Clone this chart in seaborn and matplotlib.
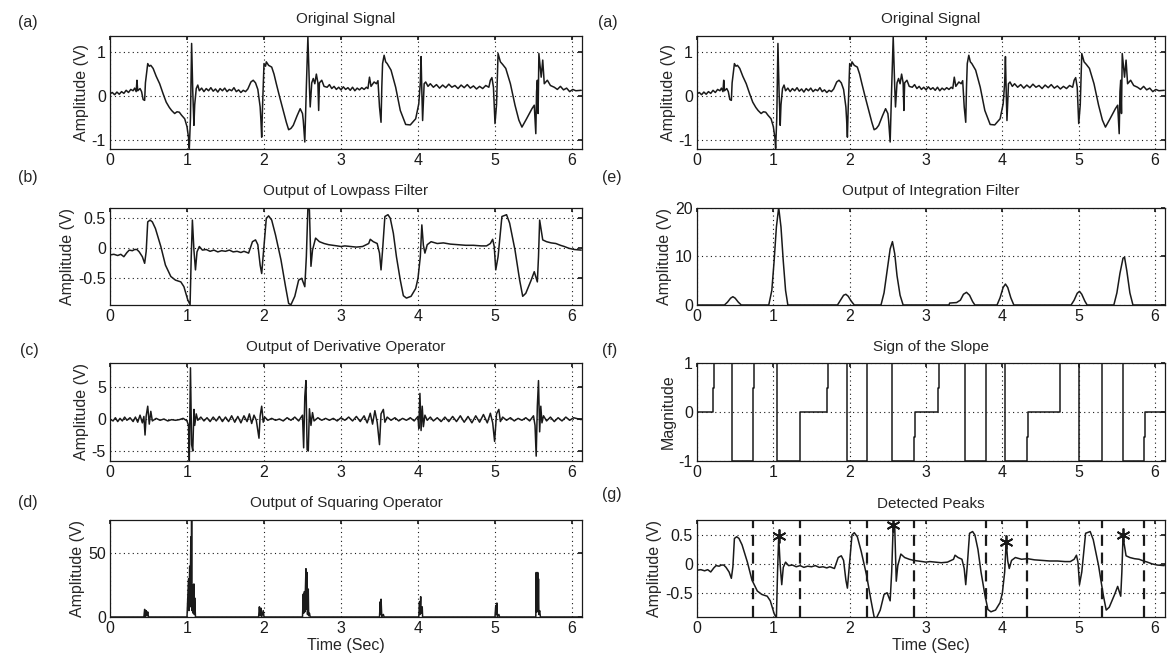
import matplotlib
matplotlib.use('Agg')
import matplotlib.pyplot as plt
import seaborn as sns

# ---- data (time in seconds) ----
sig_t = [0.00, 0.03, 0.06, 0.09, 0.12, 0.15, 0.18, 0.21, 0.24, 0.27, 0.30, 0.32, 0.34, 0.35, 0.36, 0.39,
         0.41, 0.43, 0.45, 0.46, 0.48, 0.49, 0.51, 0.53, 0.56, 0.60, 0.645, 0.69, 0.73, 0.77, 0.80, 0.84,
         0.87, 0.90, 0.93, 0.97, 1.00, 1.02, 1.03, 1.045, 1.06, 1.075, 1.09, 1.10, 1.12, 1.14, 1.16, 1.19,
         1.22, 1.25, 1.28, 1.31, 1.34, 1.37, 1.40, 1.43, 1.46, 1.49, 1.52, 1.55, 1.58, 1.61, 1.64, 1.67,
         1.70, 1.73, 1.76, 1.79, 1.83, 1.86, 1.89, 1.92, 1.95, 1.96, 1.97, 1.98, 2.00, 2.02, 2.03, 2.06,
         2.10, 2.13, 2.16, 2.20, 2.25, 2.29, 2.32, 2.35, 2.38, 2.43, 2.47, 2.50, 2.51, 2.53, 2.55, 2.57,
         2.59, 2.60, 2.62, 2.64, 2.66, 2.68, 2.70, 2.71, 2.72, 2.75, 2.78, 2.82, 2.85, 2.88, 2.91, 2.94,
         2.97, 3.00, 3.03, 3.06, 3.09, 3.12, 3.15, 3.18, 3.21, 3.24, 3.27, 3.30, 3.33, 3.35, 3.37, 3.39,
         3.43, 3.46, 3.48, 3.50, 3.52, 3.53, 3.54, 3.56, 3.58, 3.60, 3.65, 3.71, 3.77, 3.84, 3.90, 3.97,
         4.01, 4.03, 4.04, 4.05, 4.06, 4.08, 4.10, 4.13, 4.16, 4.20, 4.24, 4.28, 4.32, 4.36, 4.40, 4.44,
         4.48, 4.52, 4.56, 4.60, 4.64, 4.68, 4.72, 4.76, 4.80, 4.84, 4.88, 4.92, 4.94, 4.96, 4.98, 5.00,
         5.02, 5.04, 5.07, 5.10, 5.14, 5.20, 5.26, 5.31, 5.35, 5.41, 5.48, 5.51, 5.53, 5.54, 5.55, 5.56,
         5.57, 5.60, 5.62, 5.64, 5.68, 5.72, 5.77, 5.81, 5.85, 5.89, 5.93, 5.97, 6.01, 6.05, 6.12]
sig_v = [0.05, 0.08, 0.03, 0.09, 0.04, 0.10, 0.06, 0.13, 0.08, 0.15, 0.12, 0.18, 0.10, 0.36, 0.12, 0.17,
         0.10, -0.08, -0.10, 0.30, 0.60, 0.74, 0.68, 0.70, 0.63, 0.45, 0.28, 0.05, -0.14, -0.26, -0.33, -0.40,
         -0.36, -0.37, -0.44, -0.52, -0.70, -0.95, -1.20, -0.50, 1.20, 0.10, -0.67, -0.20, 0.17, 0.25, 0.12, 0.18,
         0.10, 0.17, 0.12, 0.19, 0.11, 0.16, 0.09, 0.17, 0.12, 0.18, 0.10, 0.15, 0.12, 0.19, 0.10, 0.14,
         0.08, 0.13, 0.10, 0.16, 0.32, 0.36, 0.30, 0.15, -0.25, -0.55, -0.94, -0.30, 0.74, 0.68, 0.78, 0.70,
         0.66, 0.50, 0.28, 0.00, -0.33, -0.60, -0.77, -0.74, -0.67, -0.45, -0.29, -0.40, -0.56, -1.05, 0.20, 1.35,
         0.20, -0.25, 0.30, 0.40, 0.28, 0.50, 0.30, -0.33, 0.30, 0.36, 0.22, 0.20, 0.26, 0.17, 0.22, 0.15,
         0.20, 0.14, 0.21, 0.15, 0.19, 0.13, 0.20, 0.12, 0.18, 0.14, 0.19, 0.15, 0.20, 0.17, 0.43, 0.22,
         0.32, 0.28, 0.35, -0.25, -0.60, 0.20, 0.74, 0.93, 0.78, 0.74, 0.59, 0.20, -0.33, -0.65, -0.66, -0.52,
         -0.18, 0.30, 0.90, 0.10, -0.56, 0.28, 0.32, 0.22, 0.28, 0.20, 0.26, 0.18, 0.25, 0.19, 0.27, 0.20,
         0.24, 0.17, 0.25, 0.19, 0.26, 0.18, 0.23, 0.16, 0.22, 0.17, 0.24, 0.20, 0.36, 0.42, 0.20, -0.63,
         -0.20, 0.97, 0.78, 0.72, 0.63, 0.28, -0.21, -0.55, -0.71, -0.52, -0.29, -0.21, -0.86, 0.10, 0.36, -0.40,
         0.97, 0.43, 0.82, 0.28, 0.36, 0.24, 0.20, 0.15, 0.22, 0.14, 0.18, 0.10, 0.15, 0.12, 0.13]

lp_t = [0.00, 0.05, 0.10, 0.14, 0.18, 0.22, 0.25, 0.29, 0.32, 0.35, 0.38, 0.42, 0.45, 0.47, 0.49, 0.52,
        0.55, 0.59, 0.66, 0.72, 0.79, 0.85, 0.92, 0.96, 1.01, 1.04, 1.055, 1.07, 1.09, 1.11, 1.13, 1.16,
        1.20, 1.25, 1.30, 1.35, 1.40, 1.45, 1.50, 1.55, 1.60, 1.65, 1.70, 1.74, 1.80, 1.85, 1.89, 1.92,
        1.95, 1.97, 2.00, 2.03, 2.06, 2.10, 2.15, 2.22, 2.28, 2.32, 2.35, 2.40, 2.45, 2.49, 2.53, 2.55,
        2.57, 2.59, 2.61, 2.63, 2.67, 2.72, 2.78, 2.84, 2.90, 2.95, 3.00, 3.05, 3.12, 3.20, 3.28, 3.36,
        3.38, 3.42, 3.47, 3.50, 3.52, 3.54, 3.57, 3.61, 3.64, 3.68, 3.72, 3.77, 3.81, 3.85, 3.91, 3.97,
        4.00, 4.03, 4.05, 4.07, 4.09, 4.12, 4.17, 4.25, 4.33, 4.42, 4.52, 4.62, 4.72, 4.82, 4.89, 4.94,
        4.97, 4.99, 5.01, 5.04, 5.09, 5.15, 5.19, 5.26, 5.32, 5.36, 5.40, 5.47, 5.51, 5.55, 5.565, 5.58,
        5.60, 5.62, 5.67, 5.73, 5.79, 5.85, 5.90, 5.96, 6.03, 6.12]
lp_v = [-0.11, -0.10, -0.12, -0.10, -0.14, -0.07, -0.03, -0.04, -0.02, -0.02, -0.06, -0.14, -0.25, -0.05, 0.44, 0.47,
        0.44, 0.33, 0.03, -0.28, -0.47, -0.53, -0.56, -0.64, -0.86, -0.94, -0.14, 0.47, -0.03, -0.36, -0.06, 0.03,
        -0.03, -0.02, -0.05, -0.03, -0.06, -0.04, -0.05, -0.03, -0.06, -0.05, -0.07, -0.05, -0.08, 0.11, 0.14, 0.06,
        -0.28, -0.42, 0.03, 0.50, 0.54, 0.47, 0.22, -0.19, -0.64, -0.92, -0.94, -0.80, -0.53, -0.50, -0.64, -0.14,
        0.67, 0.64, -0.30, -0.03, 0.17, 0.11, 0.08, 0.06, 0.05, 0.04, 0.03, 0.04, 0.03, 0.02, 0.03, 0.08,
        0.15, 0.11, 0.08, -0.08, -0.36, -0.03, 0.53, 0.56, 0.50, 0.25, -0.14, -0.53, -0.79, -0.83, -0.80, -0.67,
        -0.50, -0.14, 0.39, 0.05, -0.08, 0.06, 0.11, 0.08, 0.09, 0.07, 0.06, 0.05, 0.05, 0.04, 0.04, 0.08,
        0.15, 0.03, -0.36, -0.14, 0.53, 0.56, 0.42, -0.03, -0.53, -0.80, -0.75, -0.53, -0.39, -0.56, -0.14, 0.47,
        0.30, 0.14, 0.11, 0.09, 0.08, 0.05, 0.03, 0.00, -0.02, -0.03]

der_t = [0.00, 0.04, 0.07, 0.10, 0.13, 0.16, 0.19, 0.22, 0.26, 0.30, 0.33, 0.36, 0.39, 0.42, 0.44, 0.455,
         0.47, 0.49, 0.51, 0.53, 0.55, 0.60, 0.65, 0.70, 0.75, 0.80, 0.85, 0.90, 0.95, 1.00, 1.02, 1.03,
         1.045, 1.06, 1.075, 1.09, 1.10, 1.12, 1.14, 1.18, 1.22, 1.26, 1.30, 1.34, 1.38, 1.42, 1.46, 1.50,
         1.54, 1.58, 1.62, 1.66, 1.70, 1.74, 1.78, 1.81, 1.84, 1.87, 1.90, 1.935, 1.95, 1.97, 1.99, 2.01,
         2.05, 2.10, 2.15, 2.20, 2.25, 2.30, 2.35, 2.40, 2.45, 2.50, 2.515, 2.53, 2.545, 2.56, 2.575, 2.59,
         2.61, 2.63, 2.65, 2.70, 2.75, 2.80, 2.85, 2.90, 2.95, 3.00, 3.05, 3.10, 3.15, 3.20, 3.25, 3.30,
         3.34, 3.38, 3.41, 3.44, 3.47, 3.50, 3.52, 3.55, 3.57, 3.60, 3.65, 3.70, 3.75, 3.80, 3.85, 3.90,
         3.95, 4.00, 4.01, 4.025, 4.04, 4.055, 4.07, 4.09, 4.12, 4.16, 4.20, 4.25, 4.30, 4.35, 4.40, 4.45,
         4.50, 4.55, 4.60, 4.65, 4.70, 4.75, 4.80, 4.85, 4.90, 4.94, 4.97, 4.995, 5.02, 5.05, 5.07, 5.10,
         5.15, 5.20, 5.25, 5.30, 5.35, 5.40, 5.45, 5.50, 5.52, 5.535, 5.55, 5.565, 5.58, 5.595, 5.61, 5.63,
         5.67, 5.72, 5.77, 5.82, 5.87, 5.92, 5.97, 6.02, 6.12]
der_v = [0.0, -0.3, 0.2, -0.4, 0.1, -0.3, 0.3, -0.2, 0.2, -0.4, 0.3, -0.5, 0.6, -0.6, 0.4, -2.5,
         0.5, 2.0, -0.8, 1.2, -0.3, 0.1, -0.2, 0.0, -0.3, -0.1, -0.2, -0.1, 0.1, -0.3, -1.0, -6.5,
         8.0, -4.0, -5.0, 1.5, -1.0, 0.8, -0.2, 0.3, -0.3, 0.2, -0.4, 0.3, -0.3, 0.4, -0.4, 0.3,
         -0.4, 0.5, -0.5, 0.4, -0.6, 0.5, -0.4, 0.8, -0.7, 0.6, -0.2, -3.0, 0.5, 2.0, -0.5, 0.3,
         -0.2, 0.1, -0.2, 0.0, -0.3, 0.2, -0.2, 0.3, -0.3, 0.6, -4.5, 3.5, 6.0, -4.8, -5.0, 1.6,
         -1.0, 1.0, -0.3, 0.2, -0.2, 0.1, -0.2, 0.1, -0.3, 0.2, -0.2, 0.3, -0.3, 0.4, -0.4, 0.5,
         -0.6, 0.9, -0.8, 1.3, -0.5, -4.0, 0.8, 1.5, -0.5, 0.3, -0.2, 0.2, -0.3, 0.1, -0.2, 0.2,
         -0.3, 0.4, -1.5, 4.0, -1.8, 2.0, -1.2, 0.6, -0.2, 0.3, -0.3, 0.2, -0.4, 0.3, -0.4, 0.4,
         -0.4, 0.5, -0.5, 0.4, -0.6, 0.5, -0.5, 0.7, -0.6, 0.9, -0.6, -3.5, 0.8, 1.5, -0.4, 0.3,
         -0.2, 0.2, -0.3, 0.1, -0.2, 0.2, -0.3, 0.5, -1.0, -5.8, 2.0, 6.0, -2.0, 2.0, -0.6, 0.5,
         -0.3, 0.3, -0.4, 0.2, -0.3, 0.3, -0.2, 0.2, -0.1]

sq_t = [0.00, 0.44, 0.45, 0.46, 0.47, 0.48, 0.49, 0.50, 1.00, 1.02, 1.025, 1.035, 1.04, 1.05, 1.055, 1.06,
        1.065, 1.075, 1.08, 1.09, 1.095, 1.10, 1.11, 1.93, 1.94, 1.95, 1.96, 1.97, 1.99, 2.00, 2.50, 2.51,
        2.515, 2.525, 2.53, 2.545, 2.55, 2.56, 2.565, 2.575, 2.58, 2.59, 2.60, 3.50, 3.51, 3.515, 3.52, 3.53,
        3.55, 3.56, 4.01, 4.02, 4.025, 4.035, 4.04, 4.055, 4.06, 5.00, 5.01, 5.015, 5.025, 5.03, 5.05, 5.06,
        5.53, 5.535, 5.54, 5.545, 5.55, 5.555, 5.56, 5.565, 5.57, 5.58, 5.59, 6.12]
sq_v = [0, 0, 6, 0.5, 5, 1, 4, 0, 0, 30, 5, 40, 8, 63, 10, 76,
        5, 25, 3, 26, 2, 15, 0, 0, 8, 1, 7, 0, 5, 0, 0, 18,
        3, 20, 4, 38, 6, 35, 2, 22, 1, 3, 0, 0, 12, 2, 14, 0,
        2, 0, 0, 12, 2, 16, 3, 8, 0, 0, 9, 2, 11, 0, 2, 0,
        0, 35, 4, 34, 5, 35, 4, 30, 2, 5, 0, 0]

int_t = [0.00, 0.36, 0.40, 0.44, 0.47, 0.50, 0.54, 0.58, 0.94, 0.98, 1.01, 1.04, 1.07, 1.10, 1.13, 1.16,
         1.19, 1.84, 1.88, 1.92, 1.95, 1.98, 2.02, 2.06, 2.41, 2.45, 2.49, 2.53, 2.56, 2.59, 2.62, 2.66,
         2.70, 3.30, 3.31, 3.40, 3.45, 3.49, 3.53, 3.57, 3.61, 3.64, 3.93, 3.97, 4.01, 4.04, 4.07, 4.11,
         4.15, 4.90, 4.94, 4.98, 5.01, 5.04, 5.08, 5.11, 5.46, 5.50, 5.54, 5.58, 5.60, 5.63, 5.67, 5.71, 6.12]
int_v = [0, 0, 0.6, 1.4, 1.7, 1.4, 0.6, 0, 0, 3, 9, 16, 20, 16, 9, 3,
         0, 0, 1.0, 2.0, 2.2, 1.8, 0.8, 0, 0, 2.5, 7, 11.5, 13, 10.5, 6, 2,
         0, 0, 0.4, 0.5, 1.0, 2.2, 2.6, 2.0, 0.7, 0, 0, 1.5, 3.6, 4.3, 3.6, 1.5,
         0, 0, 1.0, 2.4, 2.8, 2.2, 0.8, 0, 0, 2.5, 6.5, 9.6, 9.8, 7.0, 2.5, 0, 0]

slope_t = [0.00, 0.21, 0.22, 0.46, 0.74, 0.75, 1.05, 1.35, 1.70, 1.71, 1.97, 2.23, 2.55, 2.84, 2.85,
           3.16, 3.17, 3.51, 3.78, 4.04, 4.32, 4.33, 4.75, 5.01, 5.30, 5.58, 5.86, 5.87, 6.12]
slope_v = [0, 0.5, 1, -1, 0.5, 1, -1, 0, 0.5, 1, -1, 1, -1, -0.5, 0,
           0.5, 1, -1, 1, -1, -0.5, 0, 1, -1, 1, -1, -0.5, 0, 0]

window_t = [0.74, 1.35, 2.23, 2.84, 3.78, 4.32, 5.30, 5.86]
peak_t = [1.07, 2.57, 4.05, 5.58]
peak_v = [0.48, 0.67, 0.38, 0.50]

sns.set_theme(style='white')
plt.rcParams['font.family'] = ['Liberation Sans', 'DejaVu Sans']
plt.rcParams['xtick.direction'] = 'in'
plt.rcParams['ytick.direction'] = 'in'

W, H = 1168, 669
fig = plt.figure(figsize=(W / 100, H / 100), dpi=100)


def px_axes(left, top, right, bottom):
    return fig.add_axes([left / W, 1 - bottom / H, (right - left) / W, (bottom - top) / H])


def style(ax, title, ylim, yticks, ylabel='Amplitude (V)', xlabel=None):
    ax.set_xlim(0, 6.13)
    ax.set_ylim(*ylim)
    ax.set_xticks(range(7))
    ax.set_yticks(yticks)
    ax.set_yticklabels([('%g' % v) for v in yticks])
    ax.grid(True, linestyle=(0, (1, 3)), color='k', linewidth=0.8)
    ax.tick_params(labelsize=11.5, length=3, top=True, right=True, pad=3, colors='k')
    for s in ax.spines.values():
        s.set_color('k')
        s.set_linewidth(0.9)
    ax.set_title(title, fontsize=11, pad=9)
    ax.set_ylabel(ylabel, fontsize=11.5, labelpad=2)
    ax.set_xlabel(xlabel if xlabel else '', fontsize=11.5, labelpad=1)


rows = [(36, 149), (207.5, 305), (363, 461), (520, 617)]
lcol = (110, 582)
rcol = (697, 1165)
line_kw = dict(color='k', linewidth=1.1, estimator=None, sort=False)

# left column
ax = px_axes(lcol[0], rows[0][0], lcol[1], rows[0][1])
sns.lineplot(x=sig_t, y=sig_v, ax=ax, **line_kw)
style(ax, 'Original Signal', (-1.21, 1.37), [-1, 0, 1])

ax = px_axes(lcol[0], rows[1][0], lcol[1], rows[1][1])
sns.lineplot(x=lp_t, y=lp_v, ax=ax, **line_kw)
style(ax, 'Output of Lowpass Filter', (-0.945, 0.68), [-0.5, 0, 0.5])

ax = px_axes(lcol[0], rows[2][0], lcol[1], rows[2][1])
sns.lineplot(x=der_t, y=der_v, ax=ax, **line_kw)
style(ax, 'Output of Derivative Operator', (-6.56, 8.75), [-5, 0, 5])

ax = px_axes(lcol[0], rows[3][0], lcol[1], rows[3][1])
sns.lineplot(x=sq_t, y=sq_v, ax=ax, **line_kw)
style(ax, 'Output of Squaring Operator', (0, 76.3), [0, 50], xlabel='Time (Sec)')

# right column
ax = px_axes(rcol[0], rows[0][0], rcol[1], rows[0][1])
sns.lineplot(x=sig_t, y=sig_v, ax=ax, **line_kw)
style(ax, 'Original Signal', (-1.21, 1.37), [-1, 0, 1])

ax = px_axes(rcol[0], rows[1][0], rcol[1], rows[1][1])
sns.lineplot(x=int_t, y=int_v, ax=ax, **line_kw)
style(ax, 'Output of Integration Filter', (0, 20), [0, 10, 20])

ax = px_axes(rcol[0], rows[2][0], rcol[1], rows[2][1])
sns.lineplot(x=slope_t, y=slope_v, ax=ax, drawstyle='steps-post', **line_kw)
style(ax, 'Sign of the Slope', (-1, 1), [-1, 0, 1], ylabel='Magnitude')

ax = px_axes(rcol[0], rows[3][0], rcol[1], rows[3][1])
sns.lineplot(x=lp_t, y=lp_v, ax=ax, **line_kw)
for t in window_t:
    ax.axvline(t, color='k', linestyle=(0, (5, 3)), linewidth=1.6)
ax.plot(peak_t, peak_v, linestyle='none', marker=(6, 2, 0), color='k',
        markersize=10, markeredgewidth=1.3)
style(ax, 'Detected Peaks', (-0.92, 0.76), [-0.5, 0, 0.5], xlabel='Time (Sec)')

# panel letters
for lab, x, y in [('(a)', 18, 22), ('(b)', 18, 178), ('(c)', 20, 350), ('(d)', 18, 503),
                  ('(a)', 598, 22), ('(e)', 602, 178), ('(f)', 602, 350), ('(g)', 602, 495)]:
    fig.text(x / W, 1 - y / H, lab, fontsize=11.5, va='center', ha='left')

fig.savefig('out.png', dpi=100, facecolor='white')
